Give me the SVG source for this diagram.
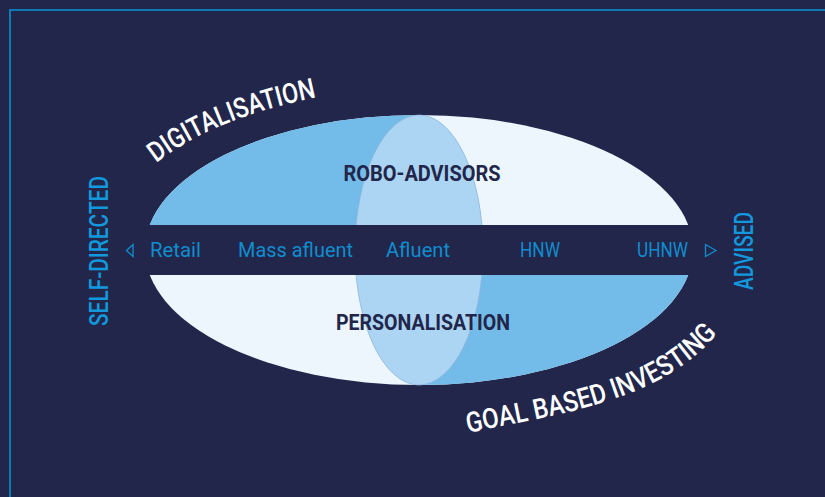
<svg xmlns="http://www.w3.org/2000/svg" width="825" height="497" viewBox="0 0 825 497">
  <style>
    .bg { fill: #21264a; }
    .frame { fill: none; stroke: #0b8fd1; stroke-width: 1.6; }
    .mid { fill: #73bbe8; }
    .pale { fill: #eef6fd; }
    .core { fill: #acd4f3; stroke: #8eb4d8; stroke-width: 0.8; }
    .seg { font-family: Roboto, "Liberation Sans", sans-serif; font-size: 20px; fill: #118dcf; }
    .theme { font-family: Roboto, "Liberation Sans", sans-serif; font-size: 22.5px; font-weight: 700; fill: #21264a; text-anchor: middle; }
    .axis { font-family: Roboto, "Liberation Sans", sans-serif; font-size: 25px; font-weight: 500; fill: #1298dc; text-anchor: middle; }
    .trend { font-family: Roboto, "Liberation Sans", sans-serif; font-size: 28px; font-weight: 500; fill: #ffffff; }
    .tri { fill: none; stroke: #118dcf; stroke-width: 1.3; stroke-linejoin: miter; }
  </style>
  <defs>
    <path id="arc-top" d="M156,163 C202,127 261,109 318,97"/>
    <path id="arc-bottom" d="M468,433 C556,414 659,403 717,334"/>
  </defs>

  <rect class="bg" x="0" y="0" width="825" height="497"/>
  <rect class="frame" x="10" y="10" width="840" height="520"/>

  <!-- client spectrum ellipse -->
  <g id="spectrum">
    <ellipse class="pale" cx="419" cy="250" rx="274" ry="135"/>
    <path class="mid" d="M145,250 A274,135 0 0 1 419,115 V250 Z"/>
    <path class="mid" d="M693,250 A274,135 0 0 1 419,385 V250 Z"/>
    <ellipse class="core" cx="419" cy="250" rx="64" ry="135"/>
  </g>

  <g id="robo-advisors">
    <text class="theme" x="422" y="181" textLength="157" lengthAdjust="spacingAndGlyphs">ROBO-ADVISORS</text>
  </g>
  <g id="personalisation">
    <text class="theme" x="423" y="330" textLength="174" lengthAdjust="spacingAndGlyphs">PERSONALISATION</text>
  </g>

  <!-- segment band -->
  <g id="band">
    <rect class="bg" x="130" y="225" width="580" height="50"/>
    <polygon class="tri" points="133,244.5 133,256.5 126.5,250.5"/>
    <polygon class="tri" points="705.5,244.5 705.5,256.5 716,250.5"/>
  </g>
  <g id="retail"><text class="seg" x="150" y="257" textLength="51" lengthAdjust="spacingAndGlyphs">Retail</text></g>
  <g id="mass-afluent"><text class="seg" x="238" y="257" textLength="115" lengthAdjust="spacingAndGlyphs">Mass afluent</text></g>
  <g id="afluent"><text class="seg" x="386" y="257" textLength="64" lengthAdjust="spacingAndGlyphs">Afluent</text></g>
  <g id="hnw"><text class="seg" x="520" y="257" textLength="40" lengthAdjust="spacingAndGlyphs">HNW</text></g>
  <g id="uhnw"><text class="seg" x="637" y="257" textLength="51" lengthAdjust="spacingAndGlyphs">UHNW</text></g>

  <!-- axis ends -->
  <g id="self-directed">
    <text class="axis" transform="translate(108,251) rotate(-90)" textLength="150" lengthAdjust="spacingAndGlyphs">SELF-DIRECTED</text>
  </g>
  <g id="advised">
    <text class="axis" transform="translate(753,251) rotate(-90)" textLength="78" lengthAdjust="spacingAndGlyphs">ADVISED</text>
  </g>

  <!-- curved trend labels -->
  <g id="digitalisation">
    <text class="trend"><textPath href="#arc-top" textLength="175" lengthAdjust="spacingAndGlyphs">DIGITALISATION</textPath></text>
  </g>
  <g id="goal-based-investing">
    <text class="trend"><textPath href="#arc-bottom" textLength="274" lengthAdjust="spacingAndGlyphs">GOAL BASED INVESTING</textPath></text>
  </g>

  <g id="connectors"/>
</svg>
